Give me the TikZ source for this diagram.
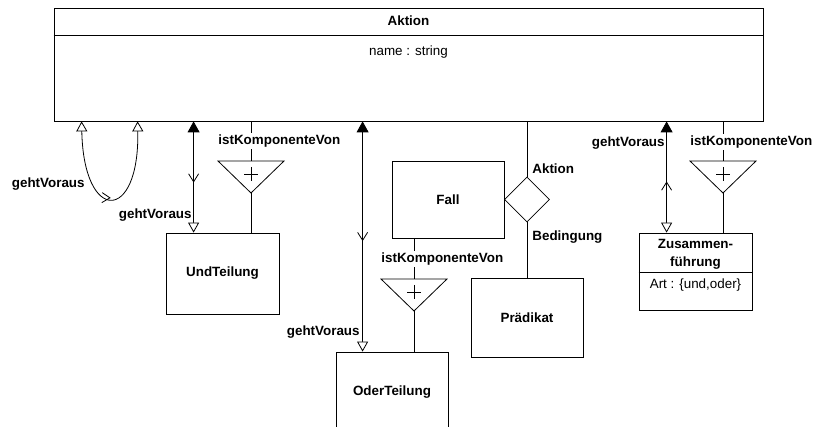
\documentclass[tikz,border=0pt]{standalone}
\usepackage{fontspec}
\setmainfont{Liberation Sans}
\usetikzlibrary{arrows.meta,shapes.geometric,decorations.markings,calc}

\tikzset{
  genTip/.tip={Triangle[open,length=10pt,width=11pt,fill=white]},
  ownTip/.tip={Triangle[length=11pt,width=12pt]},
  navTip/.tip={Straight Barb[length=8pt,width=10pt]},
}

\begin{document}
\begin{tikzpicture}[x=1pt,y=-1pt,
  line width=0.8pt,
  txt/.style={font=\fontsize{13.4}{16}\selectfont},
  box/.style={draw, rectangle, inner sep=0pt, txt, font=\fontsize{13.4}{16}\selectfont\bfseries},
  lbl/.style={txt, font=\fontsize{13.4}{16}\selectfont\bfseries, inner sep=1pt},
  cut/.style={lbl, fill=white, inner sep=2pt},
  navmid/.style={postaction={decorate}, decoration={markings, mark=at position #1 with {\arrow{navTip}}}},
  agg/.pic={
    \draw[fill=white] (-33,0) -- (33,0) -- (0,32) -- cycle;
    \draw (-7,13) -- (7,13) (0,6) -- (0,20);
    \coordinate (-top) at (0,0);
    \coordinate (-apex) at (0,32);
  },
]
\useasboundingbox (0,0) rectangle (814,427);

% classes
\node[box, minimum width=709, minimum height=113] (aktion) at (408.5,64.5) {};
\draw ($(aktion.north west)+(0,28)$) -- ($(aktion.north east)+(0,28)$);
\node[lbl] (aktionT) at (408.5,21) {Aktion};
\node[txt] (aktionA) at (408.5,52) {name : string};

\node[box, minimum width=113, minimum height=81] (und) at (222.5,273.5) {UndTeilung};
\node[box, minimum width=112, minimum height=80] (oder) at (392,392) {OderTeilung};
\node[box, minimum width=112, minimum height=77] (fall) at (448,199.5) {Fall};
\node[box, minimum width=112, minimum height=79] (praed) at (527,317.5) {Pr\"adikat};
\node[box, minimum width=113, minimum height=77] (zus) at (695.5,271.5) {};
\draw ($(zus.north west)+(0,40)$) -- ($(zus.north east)+(0,40)$);
\node[lbl, align=center, font=\fontsize{13.4}{18}\selectfont\bfseries] (zusT) at (695.5,254) {Zusammen-\\f\"uhrung};
\node[txt] (zusA) at (695.5,285) {Art : \{und,oder\}};

\node[draw, diamond, minimum width=45, minimum height=45, inner sep=0pt] (dia) at (527,199.5) {};

% aggregation markers
\pic (k1) at (251,161) {agg};
\pic (k2) at (414,279) {agg};
\pic (k3) at (723,161) {agg};

% reference points on the class borders
\coordinate (gA) at ($(aktion.south west)+(28,0)$);
\coordinate (gB) at ($(aktion.south west)+(84,0)$);
\coordinate (ug) at ($(und.north west)+(28,0)$);
\coordinate (og) at ($(oder.north west)+(27,0)$);
\coordinate (zg) at ($(zus.north west)+(28,0)$);

% gehtVoraus associations
\draw[genTip-genTip, navmid=0.5] (gA) .. controls ($(gA)+(2,102)$) and ($(gB)+(2,102)$) .. (gB);
\draw[ownTip-genTip, navmid=0.55] (aktion.south -| ug) -- (ug);
\draw[ownTip-genTip, navmid=0.52] (aktion.south -| og) -- (og);
\draw[genTip-ownTip, navmid=0.46] (zg) -- (aktion.south -| zg);

% istKomponenteVon aggregations
\draw (aktion.south -| k1-top) -- (k1-top);
\draw (k1-apex) -- (und.north -| k1-apex);
\draw (fall.south -| k2-top) -- (k2-top);
\draw (k2-apex) -- (oder.north -| k2-apex);
\draw (aktion.south -| k3-top) -- (k3-top);
\draw (k3-apex) -- (zus.north -| k3-apex);

% Fall association
\draw (aktion.south -| dia.north) -- (dia.north);
\draw (dia.south) -- (praed.north);

% labels
\node[lbl, anchor=east] (l1) at (86,184) {gehtVoraus};
\node[lbl, anchor=east] (l2) at (193,215) {gehtVoraus};
\node[lbl, anchor=east] (l3) at (361,332) {gehtVoraus};
\node[lbl, anchor=east] (l4) at (666,143) {gehtVoraus};
\node[cut, anchor=west] (c1) at ($(k1-top)+(-35,-20)$) {istKomponenteVon};
\node[cut, anchor=west] (c2) at ($(k2-top)+(-35,-20)$) {istKomponenteVon};
\node[cut, anchor=west] (c3) at ($(k3-top)+(-35,-19)$) {istKomponenteVon};
\node[lbl, anchor=west] (r1) at (531,169) {Aktion};
\node[lbl, anchor=west] (r2) at (531,237) {Bedingung};
\end{tikzpicture}
\end{document}
